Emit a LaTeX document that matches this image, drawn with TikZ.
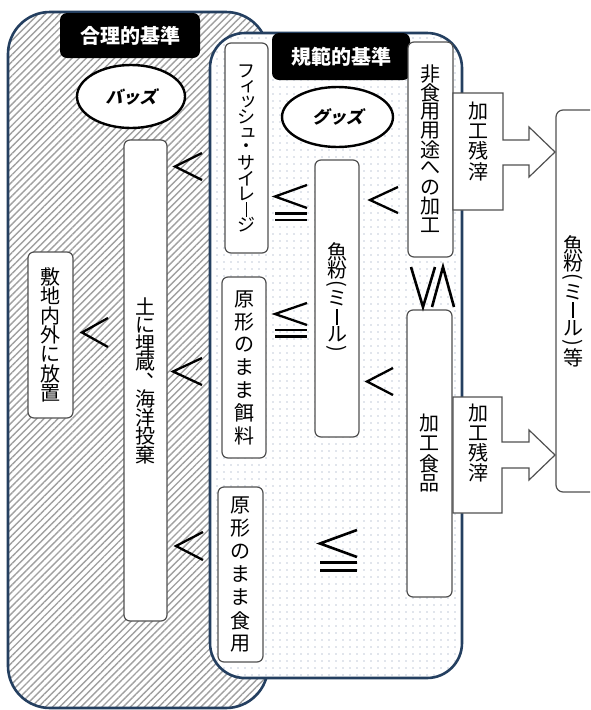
\documentclass[tikz,border=0pt]{standalone}
\usepackage{fontspec}
\usepackage{graphicx}
\setmainfont{Noto Sans CJK JP}
\newfontfamily\jpbi[FakeSlant=0.22]{Noto Sans CJK JP}
\usetikzlibrary{patterns.meta,shapes.geometric}
\definecolor{navy}{HTML}{243F60}
\definecolor{boxgray}{HTML}{505050}
\definecolor{hatchc}{HTML}{A0A0A0}
\definecolor{dotc}{HTML}{7F90AE}

\ExplSyntaxOn
\dim_new:N \l_vt_pitch_dim
\NewDocumentCommand \vtext { O{20pt} m }
  {
    \dim_set:Nn \l_vt_pitch_dim {#1}
    \vbox:n { \offinterlineskip \tl_map_function:nN {#2} \vt_cell:n }
  }
\cs_new_protected:Npn \vt_box:nn #1#2
  {
    \hbox_to_wd:nn {1.3em}
      { \hfil \vbox_to_ht:nn { #1 \l_vt_pitch_dim } { \vfil \hbox:n {#2} \vfil } \hfil }
  }
\cs_new_protected:Npn \vt_comma:
  {
    \hbox_to_wd:nn {1.3em}
      { \hfil \vbox_to_ht:nn { \l_vt_pitch_dim }
          { \kern0.1em \hbox_to_wd:nn {1em} { \kern0.55em \hbox_overlap_right:n {、} \hfil } \vfil } \hfil }
  }
\cs_new_protected:Npn \vt_cell:n #1
  {
    \str_case:nnF {#1}
      {
        {（} { \vt_box:nn {0.6} { \rotatebox{-90}{(} } }
        {）} { \vt_box:nn {0.6} { \rotatebox{-90}{)} } }
        {ー} { \vt_box:nn {1} { \rule{0.09em}{0.8em} } }
        {、} { \vt_comma: }
        {ッ} { \vt_box:nn {1} { \kern0.2em ッ } }
        {ィ} { \vt_box:nn {1} { \kern0.2em ィ } }
        {ュ} { \vt_box:nn {1} { \kern0.2em ュ } }
      }
      { \vt_box:nn {1} {#1} }
  }
\ExplSyntaxOff

\tikzset{
  region/.style={draw=navy, line width=2.6pt},
  vbox/.style={draw=boxgray, fill=white, rounded corners=6pt, line width=1.2pt,
    inner sep=0pt, font=\fontsize{20}{20}\selectfont},
  vlabel/.style={inner sep=0pt, font=\fontsize{20}{20}\selectfont},
  titlebox/.style={fill=black, rounded corners=7pt, text=white, inner sep=0pt,
    font=\fontsize{20}{20}\selectfont\bfseries},
  oval/.style={ellipse, draw=black, fill=white, line width=2.4pt, inner sep=0pt,
    font=\fontsize{17}{17}\jpbi\bfseries},
  sym/.style={draw=black, line width=2.3pt, line cap=butt, line join=miter},
  barr/.style={draw=boxgray, fill=white, line width=1.2pt},
}

\begin{document}
\begin{tikzpicture}[x=1pt,y=-1pt]
\useasboundingbox (0,0) rectangle (590,710);
\clip (0,0) rectangle (590,710);
\fill[white] (0,0) rectangle (590,710);

% outer region (rational standard)
\draw[region, rounded corners=42pt, preaction={fill=white},
  pattern={Lines[angle=45,distance=5pt,line width=1.4pt]}, pattern color=hatchc]
  (8,12) rectangle (268,708);
\node[titlebox, minimum width=140pt, minimum height=45pt] (gouri) at (130,35.5) {合理的基準};
\node[oval, minimum width=108pt, minimum height=63pt] (bads) at (131,96.5) {バッズ};

\node[vbox, minimum width=45pt, minimum height=166pt] (houchi) at (50.5,335) {\vtext[19.5pt]{敷地内外に放置}};
\node[vbox, minimum width=43pt, minimum height=481pt] (maizo) at (145.5,380.5) {\vtext[18.5pt]{土に埋蔵、海洋投棄}};

\draw[sym] (108,318) -- (82,332.5) -- (108,347);
\draw[sym] (202,153) -- (175,166.5) -- (202,180);
\draw[sym] (202,358) -- (173,371.5) -- (202,385);
\draw[sym] (203,532) -- (176,546) -- (203,560);

% inner region (normative standard)
\draw[region, rounded corners=35pt, preaction={fill=white},
  pattern={Dots[distance=7pt,radius=0.65pt]}, pattern color=dotc]
  (210,33) rectangle (462,678);
\node[titlebox, minimum width=138pt, minimum height=47pt] (kihan) at (341,56.5) {規範的基準};
\node[oval, minimum width=111pt, minimum height=60pt] (goods) at (337.5,117) {グッズ};

\node[vbox, minimum width=43pt, minimum height=210pt, font=\fontsize{18}{18}\selectfont] (silage) at (246.5,148) {\vtext[15.4pt]{フィッシュ・サイレージ}};
\node[vbox, minimum width=44pt, minimum height=181pt] (esa) at (244,367.5) {\vtext[22.8pt]{原形のまま餌料}};
\node[vbox, minimum width=45pt, minimum height=175pt] (shoku) at (240.5,574.5) {\vtext[23pt]{原形のまま食用}};
\node[vbox, minimum width=44pt, minimum height=277pt] (meal) at (337,298.5) {\vtext[18pt]{魚粉（ミール）}};
\node[vbox, minimum width=45pt, minimum height=215pt] (hishoku) at (430.5,149.5) {\vtext[18.9pt]{非食用用途への加工}};
\node[vbox, minimum width=45pt, minimum height=287pt] (kakou) at (429.5,453.5) {\vtext[20pt]{加工食品}};

% <= symbols
\draw[sym] (307,185) -- (275,196.5) -- (307,208);
\draw[sym] (275,213.5) -- (307,213.5) (275,220) -- (307,220);
\draw[sym] (307,303) -- (275,314) -- (307,325);
\draw[sym] (275,330) -- (307,330) (275,336.5) -- (307,336.5);
\draw[sym, line width=2.6pt] (357,530) -- (320,543.5) -- (357,557);
\draw[sym, line width=3pt] (320,562) -- (357,562) (320,570) -- (357,570);
% < symbols
\draw[sym] (398,187) -- (370,200) -- (398,213);
\draw[sym] (393,368) -- (367,381.5) -- (393,395);
% V/\ symbol
\draw[sym, line width=2.6pt] (411,267) -- (423,307) -- (435,267);
\draw[sym, line width=2.6pt] (432,307) -- (443,267) -- (454,307);

% processing residue block arrows
\draw[barr] (453,93) -- (503,93) -- (503,140) -- (529,140) -- (529,127) -- (555,152)
  -- (529,177) -- (529,165) -- (503,165) -- (503,210) -- (453,210) -- cycle;
\node[vlabel] (zansai1) at (478,141) {\vtext[20.3pt]{加工残滓}};
\draw[barr] (453,397) -- (502,397) -- (502,442) -- (529,442) -- (529,430) -- (555,455)
  -- (529,480) -- (529,468) -- (502,468) -- (502,513) -- (453,513) -- cycle;
\node[vlabel] (zansai2) at (478,443) {\vtext[20pt]{加工残滓}};

% fish meal box on the right
\draw[draw=boxgray, fill=white, rounded corners=7pt, line width=1.2pt] (556,110) rectangle (610,492);
\node[vlabel] (mealetc) at (573,301) {\vtext[18.3pt]{魚粉（ミール）等}};
\end{tikzpicture}
\end{document}
